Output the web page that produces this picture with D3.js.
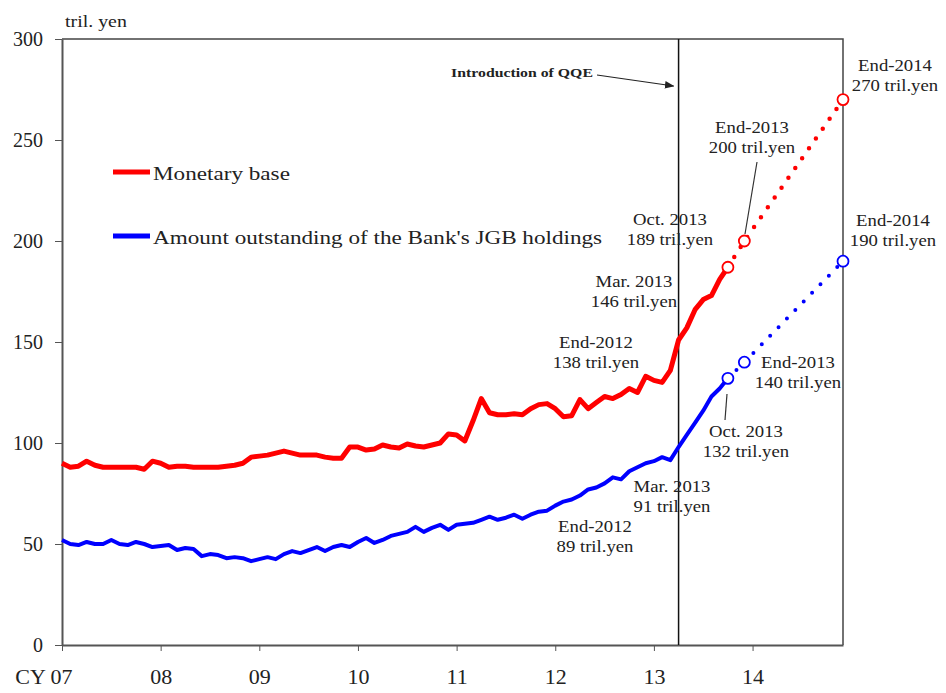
<!DOCTYPE html>
<html>
<head>
<meta charset="utf-8">
<script src="https://cdn.jsdelivr.net/npm/d3@7"></script>
<style>
  body { margin: 0; background: #fff; }
  svg, svg text { font-family: "Liberation Serif", "Times New Roman", serif; }
  .axis path, .axis line { stroke: #555; }
  .axis text { fill: #222; }
</style>
</head>
<body>
<section></section>
<script>

// Monthly figures, Jan 2007 (index 0) to Oct 2013 (index 81), tril. yen
var monetaryBase = [
    90, 88, 88.5, 91, 89, 88, 88, 88, 88, 88, 87, 91,
    90, 88, 88.5, 88.5, 88, 88, 88, 88, 88.5, 89, 90, 93,
    93.5, 94, 95, 96, 95, 94, 94, 94, 93, 92.5, 92.5, 98,
    98, 96.5, 97, 99, 98, 97.5, 99.5, 98.5, 98, 99, 100, 104.5,
    104, 101, 111, 122, 115, 114, 114, 114.5, 114, 117, 119, 119.5,
    117, 113, 113.5, 121.5, 117, 120, 123, 122, 124, 127, 125, 133,
    131, 130, 136, 151, 157, 166, 171, 173, 181, 187
]
var jgbHoldings = [
    52, 50, 49.5, 51, 50, 50, 52, 50, 49.5, 51, 50, 48.5,
    49, 49.5, 47, 48, 47.5, 44, 45, 44.5, 43, 43.5, 43, 41.5,
    42.5, 43.5, 42.5, 45, 46.5, 45.5, 47, 48.5, 46.5, 48.5, 49.5, 48.5,
    51, 53, 50.5, 52, 54, 55, 56, 58.5, 56, 58, 59.5, 57,
    59.5, 60, 60.5, 62, 63.5, 62, 63, 64.5, 62.5, 64.5, 66, 66.5,
    69, 71, 72, 74, 77, 78, 80, 83, 82, 86, 88, 90,
    91, 93, 91.5, 98, 104, 110, 116, 123, 127, 132
]

// Projection points: Oct 2013, End-2013, End-2014
var projMonths = [81, 83, 95]
var projMonetaryBase = [187, 200, 270]
var projJgb = [132, 140, 190]

var qqeMonth = 75   // Apr 2013
var yTicks = [0, 50, 100, 150, 200, 250, 300]
var xTickMonths = [0, 12, 24, 36, 48, 60, 72, 84]
var xTickLabels = ["CY 07", "08", "09", "10", "11", "12", "13", "14"]

// Setup size.
var margin = { top: 39, right: 103, bottom: 48, left: 62 }
var width = 946 - margin.left - margin.right
var height = 693 - margin.top - margin.bottom

var xScale = d3.scaleLinear().domain([0, 95]).range([0, width])
var yScale = d3.scaleLinear().domain([0, 300]).range([height, 0])

var root = d3.select("section").append("svg")
    .attr("width", 946)
    .attr("height", 693)

var svg = root.append("g")
    .attr("transform", "translate(" + margin.left + "," + margin.top + ")")

// Frame: top and right edges
svg.append("path")
    .attr("d", "M0,0H" + width + "V" + height)
    .attr("fill", "none")
    .attr("stroke", "#444")
    .attr("stroke-width", 1.5)

// Axes
var yAxis = d3.axisLeft(yScale).tickValues(yTicks).tickSize(7).tickSizeOuter(0).tickPadding(12)
var xAxis = d3.axisBottom(xScale).tickValues(xTickMonths).tickSize(6).tickSizeOuter(0).tickPadding(17)
    .tickFormat(function (d, i) { return xTickLabels[i]; })

var gy = svg.append("g").attr("class", "axis").call(yAxis).attr("font-family", null)
gy.selectAll("text").style("font-size", "20px")
gy.select(".domain").attr("stroke-width", 2)

var gx = svg.append("g").attr("class", "axis")
    .attr("transform", "translate(0," + height + ")")
    .call(xAxis).attr("font-family", null)
gx.selectAll("text").style("font-size", "22px")
gx.select(".domain").attr("stroke-width", 2)
gx.selectAll(".tick").filter(function (d) { return d === 0; }).select("text")
    .attr("text-anchor", "end").attr("x", 10)

// Introduction of QQE
svg.append("line")
    .attr("x1", xScale(qqeMonth)).attr("x2", xScale(qqeMonth))
    .attr("y1", 0).attr("y2", height)
    .attr("stroke", "#111").attr("stroke-width", 1.5)

// Series lines
var line = d3.line()
    .x(function (d, i) { return xScale(i); })
    .y(function (d) { return yScale(d); })

svg.append("path").datum(monetaryBase)
    .attr("d", line).attr("fill", "none")
    .attr("stroke", "#ff0000").attr("stroke-width", 5).attr("stroke-linejoin", "round")

svg.append("path").datum(jgbHoldings)
    .attr("d", line).attr("fill", "none")
    .attr("stroke", "#0000ff").attr("stroke-width", 4).attr("stroke-linejoin", "round")

// Projections (dotted) and circles
var projLine = d3.line()
    .x(function (d, i) { return xScale(projMonths[i]); })
    .y(function (d) { return yScale(d); })

function projection(values, color, sw) {
    svg.append("path").datum(values)
        .attr("d", projLine).attr("fill", "none")
        .attr("stroke", color).attr("stroke-width", sw)
        .attr("stroke-linecap", "round")
        .attr("stroke-dasharray", "0 12")
    svg.selectAll(null).data(values).enter().append("circle")
        .attr("cx", function (d, i) { return xScale(projMonths[i]); })
        .attr("cy", function (d) { return yScale(d); })
        .attr("r", 5.5)
        .attr("fill", "#fff")
        .attr("stroke", color).attr("stroke-width", 1.8)
}
projection(projMonetaryBase, "#ff0000", 4.5)
projection(projJgb, "#0000ff", 4)

// Text helper (slightly wide serif as in the original)
function label(x, y, lines, size, anchor, weight) {
    var t = root.append("text")
        .attr("transform", "translate(" + x + "," + y + ") scale(1.17,1)")
        .attr("text-anchor", anchor || "middle")
        .style("font-size", size + "px")
        .style("font-weight", weight || "normal")
        .attr("fill", "#222")
    lines.forEach(function (s, i) {
        t.append("tspan").attr("x", 0).attr("dy", i ? size * 1.28 : 0).text(s)
    })
}

// Unit
label(65, 27, ["tril. yen"], 17, "start")

// Legend
var legend = [
    { name: "Monetary base", color: "#ff0000", y: 172 },
    { name: "Amount outstanding of the Bank's JGB holdings", color: "#0000ff", y: 236 }
]
legend.forEach(function (d) {
    root.append("line").attr("x1", 113).attr("x2", 150).attr("y1", d.y).attr("y2", d.y)
        .attr("stroke", d.color).attr("stroke-width", 5)
    label(153, d.y + 8, [d.name], 19.8, "start")
})

// Annotations
label(670, 225, ["Oct. 2013", "189 tril.yen"], 16)
label(752, 133, ["End-2013", "200 tril.yen"], 16)
label(895, 71, ["End-2014", "270 tril.yen"], 16)
label(634, 287, ["Mar. 2013", "146 tril.yen"], 16)
label(596, 348, ["End-2012", "138 tril.yen"], 16)
label(798, 368, ["End-2013", "140 tril.yen"], 16)
label(746, 437, ["Oct. 2013", "132 tril.yen"], 16)
label(893, 226, ["End-2014", "190 tril.yen"], 16)
label(672, 492, ["Mar. 2013", "91 tril.yen"], 16)
label(595, 532, ["End-2012", "89 tril.yen"], 16)
label(522, 77, ["Introduction of QQE"], 13.5, "middle", "bold")

// Leader lines
root.append("line").attr("x1", 757).attr("y1", 162).attr("x2", 745).attr("y2", 234)
    .attr("stroke", "#333").attr("stroke-width", 1.2)
root.append("line").attr("x1", 727).attr("y1", 394).attr("x2", 725).attr("y2", 420)
    .attr("stroke", "#333").attr("stroke-width", 1.2)

// Arrow to the QQE line
root.append("defs").append("marker")
    .attr("id", "arrow").attr("viewBox", "0 0 10 10")
    .attr("refX", 9).attr("refY", 5)
    .attr("markerWidth", 8).attr("markerHeight", 8)
    .attr("orient", "auto")
    .append("path").attr("d", "M0,1L10,5L0,9Z").attr("fill", "#222")

root.append("line").attr("x1", 597).attr("y1", 75)
    .attr("x2", margin.left + xScale(qqeMonth) - 5).attr("y2", 86)
    .attr("stroke", "#222").attr("stroke-width", 1.2)
    .attr("marker-end", "url(#arrow)")

</script>
</body>
</html>
